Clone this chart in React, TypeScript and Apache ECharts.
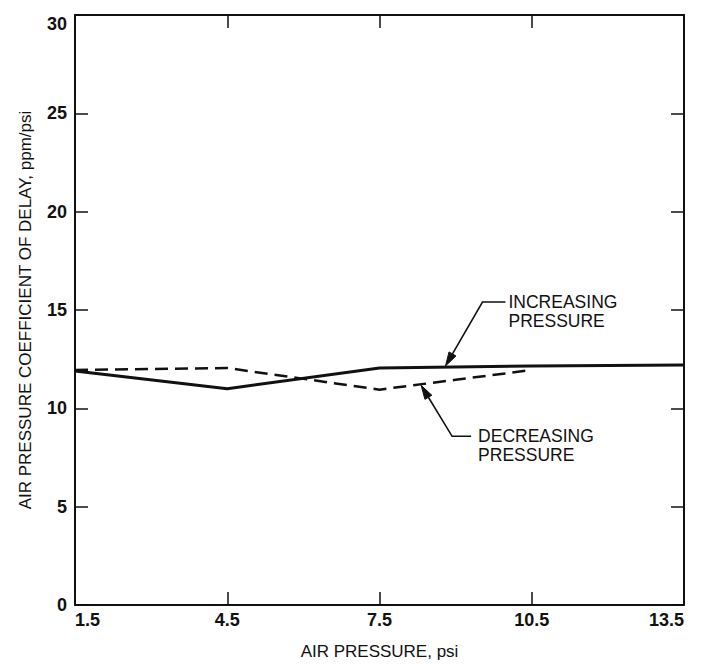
import React, { useEffect, useRef } from "react";
import * as echarts from "echarts";

const xTicks = [1.5, 4.5, 7.5, 10.5, 13.5];
const increasingX = [1.5, 4.5, 7.5, 10.5, 13.5];
const increasingY = [11.9, 11.0, 12.05, 12.15, 12.2];
const decreasingX = [1.5, 4.5, 7.5, 9.0, 10.5];
const decreasingY = [11.95, 12.05, 10.95, 11.45, 11.95];
const labelIncreasing = ["INCREASING", "PRESSURE"];
const labelDecreasing = ["DECREASING", "PRESSURE"];
const incArrowTip = [8.8, 12.15];
const decArrowTip = [8.32, 11.17];

const FONT = "'Liberation Sans', Arial, Helvetica, sans-serif";

function arrow(tip: number[], knee: number[], end: number[]) {
  const dx = knee[0] - tip[0];
  const dy = knee[1] - tip[1];
  const len = Math.sqrt(dx * dx + dy * dy);
  const ux = dx / len;
  const uy = dy / len;
  const L = 14;
  const W = 4;
  const bx = tip[0] + ux * L;
  const by = tip[1] + uy * L;
  return [
    {
      type: "polyline",
      shape: { points: [[bx, by], knee, end] },
      style: { stroke: "#111", lineWidth: 1.6, fill: "none" },
      silent: true,
    },
    {
      type: "polygon",
      shape: {
        points: [
          tip,
          [bx - uy * W, by + ux * W],
          [bx + uy * W, by - ux * W],
        ],
      },
      style: { fill: "#111", stroke: "#111", lineWidth: 1 },
      silent: true,
    },
  ];
}

export default function App() {
  const ref = useRef<HTMLDivElement>(null);
  useEffect(() => {
    if (!ref.current) return;
    const chart = echarts.init(ref.current, null, { renderer: "svg" });
    const axisCommon = {
      type: "value" as const,
      axisLine: { show: true, onZero: false, lineStyle: { color: "#111", width: 2 } },
      axisTick: { show: true, inside: true, length: 13, lineStyle: { color: "#111", width: 1.5 } },
      splitLine: { show: false },
    };
    chart.setOption({
      animation: false,
      backgroundColor: "#fff",
      grid: { left: 75, right: 22, top: 15, bottom: 60, containLabel: false },
      xAxis: [
        {
          ...axisCommon,
          min: 1.5,
          max: 13.5,
          interval: 3,
          position: "bottom",
          name: "AIR PRESSURE, psi",
          nameLocation: "middle",
          nameGap: 38,
          nameTextStyle: { fontFamily: FONT, fontSize: 17, color: "#111" },
          axisLabel: {
            fontFamily: FONT,
            fontSize: 18,
            fontWeight: "bold",
            color: "#111",
            margin: 6,
            alignMinLabel: "left",
            alignMaxLabel: "right",
            formatter: (v: number) => (xTicks.includes(v) ? v.toFixed(1) : ""),
          },
        },
        {
          ...axisCommon,
          min: 1.5,
          max: 13.5,
          interval: 3,
          position: "top",
          axisLabel: { show: false },
        },
      ],
      yAxis: [
        {
          ...axisCommon,
          min: 0,
          max: 30,
          interval: 5,
          position: "left",
          name: "AIR PRESSURE COEFFICIENT OF DELAY, ppm/psi",
          nameLocation: "middle",
          nameGap: 41,
          nameTextStyle: { fontFamily: FONT, fontSize: 17, color: "#111" },
          axisLabel: {
            fontFamily: FONT,
            fontSize: 18,
            fontWeight: "bold",
            color: "#111",
            margin: 8,
            verticalAlignMaxLabel: "top",
          },
        },
        {
          ...axisCommon,
          min: 0,
          max: 30,
          interval: 5,
          position: "right",
          axisLabel: { show: false },
        },
      ],
      series: [
        {
          name: "Increasing pressure",
          type: "line",
          data: increasingX.map((x, i) => [x, increasingY[i]]),
          showSymbol: false,
          lineStyle: { color: "#111", width: 3, type: "solid" },
          z: 3,
        },
        {
          name: "Decreasing pressure",
          type: "line",
          data: decreasingX.map((x, i) => [x, decreasingY[i]]),
          showSymbol: false,
          lineStyle: { color: "#111", width: 2.5, type: [13, 7] },
          z: 2,
        },
      ],
    });

    const t1 = chart.convertToPixel({ xAxisIndex: 0, yAxisIndex: 0 }, incArrowTip) as number[];
    const k1 = [t1[0] + 37, t1[1] - 64];
    const e1 = [k1[0] + 23, k1[1]];
    const t2 = chart.convertToPixel({ xAxisIndex: 0, yAxisIndex: 0 }, decArrowTip) as number[];
    const k2 = [t2[0] + 31, t2[1] + 51];
    const e2 = [k2[0] + 19, k2[1]];

    const textStyle = (text: string) => ({
      text,
      fill: "#111",
      fontFamily: FONT,
      fontSize: 17.5,
      lineHeight: 19,
      align: "left",
      verticalAlign: "top",
    });

    chart.setOption({
      graphic: [
        ...arrow(t1, k1, e1),
        ...arrow(t2, k2, e2),
        {
          type: "text",
          x: e1[0] + 3,
          y: k1[1] - 10,
          style: textStyle(labelIncreasing.join("\n")),
          silent: true,
        },
        {
          type: "text",
          x: e2[0] + 7,
          y: k2[1] - 10,
          style: textStyle(labelDecreasing.join("\n")),
          silent: true,
        },
      ],
    });

    return () => chart.dispose();
  }, []);
  return (
    <div
      ref={ref}
      style={{ position: "fixed", left: 0, top: 0, width: 706, height: 665, background: "#fff" }}
    />
  );
}
